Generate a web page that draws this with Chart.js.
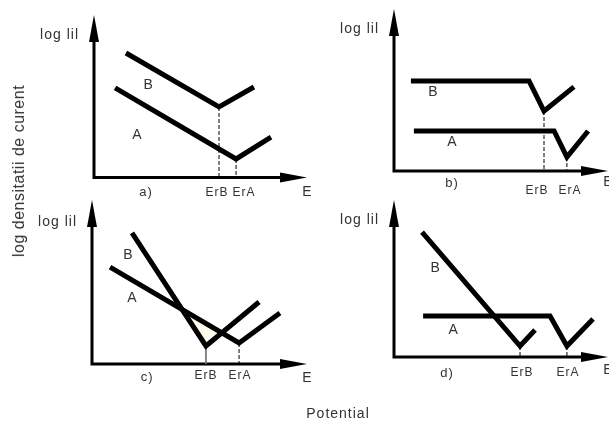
<!DOCTYPE html>
<html>
<head>
<meta charset="utf-8">
<script src="https://cdn.jsdelivr.net/npm/chart.js@4.4.1/dist/chart.umd.min.js"></script>
<style>
  html, body { margin: 0; padding: 0; background: #fff; }
  #wrap { position: relative; width: 609px; height: 421px; overflow: hidden;
          font-family: Arial, "Liberation Sans", sans-serif; color: #333; }
  #wrap canvas { position: absolute; left: 0; top: 0; }
  #ylab { position: absolute; left: 19px; top: 171px; font-size: 16px; letter-spacing: 0.5px;
          white-space: nowrap; transform: translate(-50%, -50%) rotate(-90deg); }
  #xlab { position: absolute; left: 338px; top: 413px; font-size: 14px; letter-spacing: 1px;
          white-space: nowrap; transform: translate(-50%, -50%); }
</style>
</head>
<body>
<div id="wrap">
  <canvas id="pa" width="609" height="421"></canvas>
  <canvas id="pb" width="609" height="421"></canvas>
  <canvas id="pc" width="609" height="421"></canvas>
  <canvas id="pd" width="609" height="421"></canvas>
  <div id="ylab">log densitatii de curent</div>
  <div id="xlab">Potential</div>
</div>
<script>
// schematic values: E = potential, logI = log|i| (arbitrary units, 0..10)
const aB_E = [1.50, 5.87, 7.51], aB_logI = [7.66, 4.34, 5.57];
const aA_E = [0.99, 6.67, 8.31], aA_logI = [5.51, 1.14, 2.49];

const bB_E = [0.79, 6.31, 7.01, 8.41], bB_logI = [5.56, 5.56, 3.70, 5.19];
const bA_E = [0.93, 7.48, 8.08, 9.07], bA_logI = [2.47, 2.47, 0.86, 2.47];

const cB_E = [1.86, 5.30, 7.77], cB_logI = [7.99, 1.10, 3.78];
const cA_E = [0.84, 6.84, 8.74], cA_logI = [5.91, 1.28, 3.11];
const cOverlap_E = [4.19, 5.30, 6.04, 4.19], cOverlap_logI = [3.32, 1.10, 1.90, 3.32];

const dB_E = [1.31, 5.89, 6.59], dB_logI = [7.96, 0.70, 1.72];
const dA_E = [1.36, 7.29, 8.08, 9.30], dA_logI = [2.61, 2.61, 0.70, 2.42];

const panelTags = ["a)", "b)", "c)", "d)"];
const erLabels = ["ErB", "ErA"];

const X_MAX = 10, Y_MAX = 10;
const FONT = 'Arial, "Liberation Sans", sans-serif';
const TEXT = "#333";

// where each diagram sits on the page and where its labels go
const panels = [
  { id: "pa", box: { x0: 94, y0: 177.5, xTip: 307, yTip: 15 },
    B: [aB_E, aB_logI], A: [aA_E, aA_logI],
    letterB: [2.54, 5.67], letterA: [2.02, 2.61], tagX: 2.44, erX: [5.77, 7.04], logY: 8.74,
    dy: { tag: 15, er: 15, e: 15 }, erStyle: ["dash", "dash"] },
  { id: "pb", box: { x0: 394, y0: 171, xTip: 608, yTip: 9 },
    B: [bB_E, bB_logI], A: [bA_E, bA_logI],
    letterB: [1.82, 4.84], letterA: [2.71, 1.80], tagX: 2.71, erX: [6.68, 8.22], logY: 8.76,
    dy: { tag: 12, er: 20, e: 11 }, erStyle: ["dash", "dash"] },
  { id: "pc", box: { x0: 92, y0: 364, xTip: 307, yTip: 200 },
    B: [cB_E, cB_logI], A: [cA_E, cA_logI], overlap: [cOverlap_E, cOverlap_logI],
    letterB: [1.67, 6.65], letterA: [1.86, 4.02], tagX: 2.56, erX: [5.30, 6.88], logY: 8.66,
    dy: { tag: 13, er: 12, e: 14 }, erStyle: ["solid", "dash"] },
  { id: "pd", box: { x0: 394, y0: 357, xTip: 608, yTip: 200 },
    B: [dB_E, dB_logI], A: [dA_E, dA_logI],
    letterB: [1.92, 5.67], letterA: [2.76, 1.72], tagX: 2.48, erX: [5.98, 8.13], logY: 8.73,
    dy: { tag: 16, er: 16, e: 13 }, erStyle: ["dash", "dash"] },
];

function toPoints(xs, ys) {
  return xs.map((x, i) => ({ x, y: ys[i] }));
}

// corrosion potential = vertex (lowest point) of a curve
function vertex(xs, ys) {
  let k = 0;
  ys.forEach((v, i) => { if (v < ys[k]) k = i; });
  return { x: xs[k], y: ys[k] };
}

function curve(xs, ys) {
  return {
    data: toPoints(xs, ys),
    borderColor: "#000",
    borderWidth: 5,
    borderCapStyle: "butt",
    borderJoinStyle: "miter",
    pointRadius: 0,
    fill: false,
    tension: 0,
    clip: false,
  };
}

function erLine(v, style) {
  return {
    data: [{ x: v.x, y: v.y }, { x: v.x, y: 0 }],
    borderColor: style === "solid" ? "#777" : "#000",
    borderWidth: 1,
    borderDash: style === "solid" ? [] : [4, 2],
    pointRadius: 0,
    fill: false,
    clip: false,
  };
}

// axes with arrowheads plus the text of each diagram
const schemePlugin = {
  id: "scheme",
  beforeDatasetsDraw(chart) {
    const { ctx, scales: { x, y } } = chart;
    const x0 = x.getPixelForValue(0), y0 = y.getPixelForValue(0);
    const xt = x.getPixelForValue(X_MAX), yt = y.getPixelForValue(Y_MAX);
    ctx.save();
    ctx.strokeStyle = "#000";
    ctx.fillStyle = "#000";
    ctx.lineWidth = 3;
    ctx.beginPath();
    ctx.moveTo(x0, y0); ctx.lineTo(xt - 20, y0);
    ctx.moveTo(x0, y0 + 1.5); ctx.lineTo(x0, yt + 20);
    ctx.stroke();
    ctx.beginPath();
    ctx.moveTo(xt, y0); ctx.lineTo(xt - 27, y0 - 5); ctx.lineTo(xt - 27, y0 + 5);
    ctx.closePath(); ctx.fill();
    ctx.beginPath();
    ctx.moveTo(x0, yt); ctx.lineTo(x0 - 5, yt + 27); ctx.lineTo(x0 + 5, yt + 27);
    ctx.closePath(); ctx.fill();
    ctx.restore();
  },
  afterDatasetsDraw(chart, args, opts) {
    const p = opts.panel;
    const { ctx, scales: { x, y } } = chart;
    const x0 = x.getPixelForValue(0), y0 = y.getPixelForValue(0);
    ctx.save();
    ctx.fillStyle = TEXT;
    ctx.textBaseline = "middle";
    ctx.textAlign = "center";
    ctx.font = "14px " + FONT;
    ctx.fillText("B", x.getPixelForValue(p.letterB[0]), y.getPixelForValue(p.letterB[1]));
    ctx.fillText("A", x.getPixelForValue(p.letterA[0]), y.getPixelForValue(p.letterA[1]));
    ctx.fillText("E", x.getPixelForValue(X_MAX), y0 + p.dy.e);
    ctx.letterSpacing = "1px";
    ctx.font = "13px " + FONT;
    ctx.fillText(p.tag, x.getPixelForValue(p.tagX), y0 + p.dy.tag);
    ctx.font = "12px " + FONT;
    erLabels.forEach((t, i) => ctx.fillText(t, x.getPixelForValue(p.erX[i]), y0 + p.dy.er));
    ctx.textAlign = "right";
    ctx.font = "14px " + FONT;
    ctx.fillText("log lil", x0 - 15, y.getPixelForValue(p.logY));
    ctx.restore();
  },
};

panels.forEach((p, i) => {
  p.tag = panelTags[i];
  const vB = vertex(p.B[0], p.B[1]);
  const vA = vertex(p.A[0], p.A[1]);
  const datasets = [
    curve(p.B[0], p.B[1]),
    curve(p.A[0], p.A[1]),
    erLine(vB, p.erStyle[0]),
    erLine(vA, p.erStyle[1]),
  ];
  if (p.overlap) {
    datasets.push({
      data: toPoints(p.overlap[0], p.overlap[1]),
      borderWidth: 0,
      backgroundColor: "#fdfbec",
      pointRadius: 0,
      fill: "shape",
      order: 5,
    });
  }
  const b = p.box;
  new Chart(document.getElementById(p.id), {
    type: "line",
    data: { datasets },
    options: {
      responsive: false,
      animation: false,
      events: [],
      layout: {
        padding: { left: b.x0, top: b.yTip, right: 609 - b.xTip, bottom: 421 - b.y0 },
      },
      scales: {
        x: { type: "linear", min: 0, max: X_MAX, display: false },
        y: { type: "linear", min: 0, max: Y_MAX, display: false },
      },
      plugins: {
        legend: { display: false },
        tooltip: { enabled: false },
        scheme: { panel: p },
      },
    },
    plugins: [schemePlugin],
  });
});
</script>
</body>
</html>
